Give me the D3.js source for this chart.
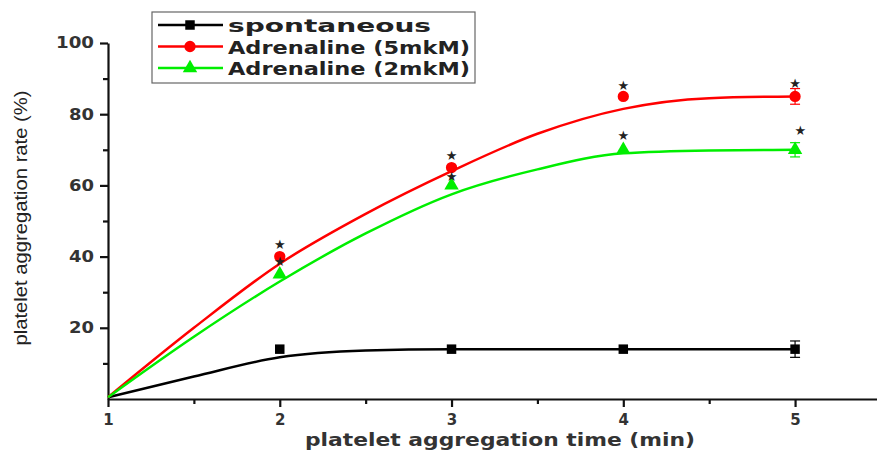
<!DOCTYPE html>
<html>
<head>
<meta charset="utf-8">
<script src="https://cdn.jsdelivr.net/npm/d3@7"></script>
<style>
  body { margin: 0; background: #fff; }
  svg { display: block; }
  .tick text { font-family: "DejaVu Sans", Verdana, sans-serif; font-weight: bold; font-size: 15px; fill: #333; }
</style>
</head>
<body>
<svg id="chart" width="877" height="455"></svg>
<script>
// measured points
const times = [2, 3, 4, 5];
const spontaneous = [14, 14, 14, 14];
const adr5 = [40, 65, 85, 85];
const adr2 = [35, 60, 70, 70];
const errSpont = [0, 0, 0, 2.3];
const err5 = [0, 0, 0, 2.2];
const err2 = [0, 0, 0, 2];

// fitted curves
const fitTimes = [1, 1.5, 2, 2.5, 3, 3.5, 4, 4.5, 5];
const fitSpont = [0.5, 6.3, 11.7, 13.6, 14, 14, 14, 14, 14];
const fit5 = [0.5, 20, 38, 52, 64, 74.5, 81.5, 84.5, 85];
const fit2 = [0.5, 17.5, 33, 46.5, 57.5, 64.5, 69, 69.8, 70];

// significance stars [time, value]
const stars = [[2, 43.5], [2, 38.5], [3, 68.5], [3, 62.5], [4, 88], [4, 74], [5, 88.7], [5.03, 75.5]];

const yTicks = [20, 40, 60, 80, 100];
const xTicks = [1, 2, 3, 4, 5];

const series = [
  { name: 'spontaneous', color: '#000', shape: d3.symbolSquare, size: 90, vals: spontaneous, err: errSpont, fit: fitSpont, len: 203 },
  { name: 'Adrenaline (5mkM)', color: '#ff0000', shape: d3.symbolCircle, size: 100, vals: adr5, err: err5, fit: fit5, len: 242 },
  { name: 'Adrenaline (2mkM)', color: '#00ee00', shape: d3.symbolTriangle, size: 90, vals: adr2, err: err2, fit: fit2, len: 242 }
];

const svg = d3.select('#chart');
const x = d3.scaleLinear().domain([1, 5.477]).range([108, 877]);
const y = d3.scaleLinear().domain([0, 100]).range([399, 43]);

// y axis
const yAxis = svg.append('g').attr('transform', 'translate(108,0)');
yAxis.call(d3.axisLeft(y).tickValues(yTicks).tickSize(8).tickSizeOuter(0).tickPadding(6));
yAxis.append('g').call(d3.axisLeft(y).tickValues([10, 30, 50, 70, 90]).tickSize(5).tickFormat(''))
  .select('.domain').remove();
yAxis.selectAll('.tick text').attr('textLength', d => d === 100 ? 38 : 25).attr('lengthAdjust', 'spacingAndGlyphs');

// x axis
const xAxis = svg.append('g').attr('transform', 'translate(0,399)');
xAxis.call(d3.axisBottom(x).tickValues(xTicks).tickSize(8).tickSizeOuter(0).tickPadding(7).tickFormat(d3.format('d')));
xAxis.append('g').call(d3.axisBottom(x).tickValues([1.5, 2.5, 3.5, 4.5]).tickSize(5).tickFormat(''))
  .select('.domain').remove();

svg.selectAll('.domain, .tick line').attr('stroke', '#111').attr('stroke-width', 2.2);

// axis titles
svg.append('text')
  .attr('x', 500).attr('y', 446)
  .attr('text-anchor', 'middle')
  .attr('textLength', 390).attr('lengthAdjust', 'spacingAndGlyphs')
  .style('font-family', '"DejaVu Sans", Verdana, sans-serif')
  .style('font-weight', 'bold').style('font-size', '17px').style('fill', '#333')
  .text('platelet aggregation time (min)');

svg.append('text')
  .attr('transform', 'translate(27,218) rotate(-90)')
  .attr('text-anchor', 'middle')
  .attr('textLength', 255).attr('lengthAdjust', 'spacingAndGlyphs')
  .style('font-family', '"Liberation Sans Narrow", "Arial Narrow", Arial, sans-serif')
  .style('font-size', '18px').style('fill', '#222')
  .text('platelet aggregation rate (%)');

// curves, error bars, markers
const line = d3.line()
  .x((d, i) => x(fitTimes[i]))
  .y(d => y(d))
  .curve(d3.curveMonotoneX);

series.forEach(s => {
  svg.append('path')
    .attr('d', line(s.fit))
    .attr('fill', 'none')
    .attr('stroke', s.color)
    .attr('stroke-width', 2.5);

  const g = svg.append('g');
  times.forEach((t, i) => {
    if (s.err[i] > 0) {
      const top = y(s.vals[i] + s.err[i]), bot = y(s.vals[i] - s.err[i]);
      g.append('line').attr('x1', x(t)).attr('x2', x(t)).attr('y1', top).attr('y2', bot)
        .attr('stroke', s.color).attr('stroke-width', 1.2);
      [top, bot].forEach(yy => g.append('line')
        .attr('x1', x(t) - 5).attr('x2', x(t) + 5).attr('y1', yy).attr('y2', yy)
        .attr('stroke', s.color).attr('stroke-width', 1.2));
    }
    g.append('path')
      .attr('d', d3.symbol().type(s.shape).size(s.size)())
      .attr('transform', `translate(${x(t)},${y(s.vals[i])})`)
      .attr('fill', s.color);
  });
});

// stars
svg.selectAll('.star').data(stars).enter().append('text')
  .attr('class', 'star')
  .attr('x', d => x(d[0]))
  .attr('y', d => y(d[1]))
  .attr('text-anchor', 'middle')
  .attr('dominant-baseline', 'central')
  .style('font-family', '"DejaVu Sans", sans-serif')
  .style('font-size', '13px').style('fill', '#222')
  .text('★');

// legend
const legend = svg.append('g').attr('transform', 'translate(152,12)');
legend.append('rect').attr('width', 323).attr('height', 71)
  .attr('fill', '#fff').attr('stroke', '#666').attr('stroke-width', 1.2);
series.forEach((s, i) => {
  const row = legend.append('g').attr('transform', `translate(0,${13 + i * 21.5})`);
  row.append('line').attr('x1', 6).attr('x2', 71).attr('stroke', s.color).attr('stroke-width', 2.5);
  row.append('path')
    .attr('d', d3.symbol().type(s.shape).size(s.size)())
    .attr('transform', 'translate(38,0)')
    .attr('fill', s.color);
  row.append('text')
    .attr('x', 76).attr('y', 1)
    .attr('dominant-baseline', 'central')
    .attr('textLength', s.len).attr('lengthAdjust', 'spacingAndGlyphs')
    .style('font-family', '"DejaVu Sans", Verdana, sans-serif')
    .style('font-weight', 'bold').style('font-size', '17px').style('fill', '#222')
    .text(s.name);
});
</script>
</body>
</html>
